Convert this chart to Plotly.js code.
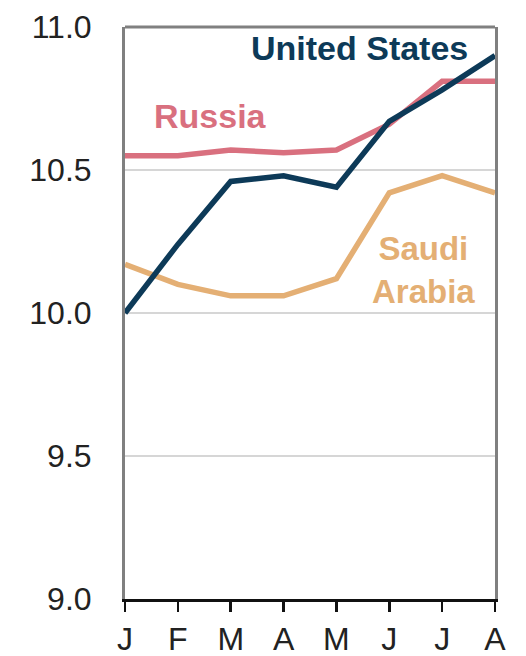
<!DOCTYPE html>
<html>
<head>
<meta charset="utf-8">
<script src="https://cdn.plot.ly/plotly-3.0.1.min.js"></script>
<style>html,body{margin:0;padding:0;background:#fff;}#chart{width:526px;height:656px;}</style>
</head>
<body>
<div id="chart"></div>
<script>
var months = ["J","F","M","A","M","J","J","A"];
var unitedStates = [10.00, 10.24, 10.46, 10.48, 10.44, 10.67, 10.78, 10.90];
var russia = [10.55, 10.55, 10.57, 10.56, 10.57, 10.66, 10.81, 10.81];
var saudiArabia = [10.17, 10.10, 10.06, 10.06, 10.12, 10.42, 10.48, 10.42];
var yTicks = [9.0, 9.5, 10.0, 10.5, 11.0];

var idx = months.map(function(_, i){ return i; });
function tr(y, color){
  return {x: idx, y: y, type: 'scatter', mode: 'lines',
    line: {color: color, width: 5.5, shape: 'linear'}, hoverinfo: 'skip'};
}
var traces = [tr(saudiArabia, '#e4af74'), tr(russia, '#d9707f'), tr(unitedStates, '#0d3a58')];

var layout = {
  width: 526, height: 656,
  margin: {l: 125, r: 31, t: 27, b: 57},
  paper_bgcolor: '#fff', plot_bgcolor: '#fff',
  showlegend: false,
  font: {family: 'Liberation Sans, Arial, sans-serif', color: '#222'},
  xaxis: {range: [0, 7], tickvals: idx, ticktext: months,
    showgrid: false, zeroline: false, showline: true, linecolor: '#111', linewidth: 3,
    ticks: 'outside', ticklen: 10, tickwidth: 2.5, tickcolor: '#111',
    tickfont: {size: 32, color: '#222'}, fixedrange: true},
  yaxis: {range: [9, 11], tickvals: yTicks, ticktext: yTicks.map(function(v){return v.toFixed(1);}),
    showgrid: true, gridcolor: '#d6d6d6', gridwidth: 1.5, zeroline: false,
    showline: true, linecolor: '#808080', linewidth: 3, mirror: true,
    ticks: '', ticklabelstandoff: 24, tickfont: {size: 32, color: '#222'}, fixedrange: true},
  shapes: [{type: 'line', xref: 'paper', yref: 'paper', x0: 0, x1: 1, y0: 1, y1: 1,
    line: {color: '#808080', width: 3}}],
  annotations: [
    {text: '<b>United States</b>', x: 6.53, y: 10.927, xref: 'x', yref: 'y', xanchor: 'right', yanchor: 'middle',
      showarrow: false, font: {size: 34, color: '#0d3a58'}},
    {text: '<b>Russia</b>', x: 0.51, y: 10.69, xref: 'x', yref: 'y', xanchor: 'left', yanchor: 'middle',
      showarrow: false, font: {size: 34, color: '#d9707f'}},
    {text: '<b>Saudi<br>Arabia</b>', x: 5.64, y: 10.15, xref: 'x', yref: 'y', xanchor: 'center', yanchor: 'middle',
      showarrow: false, align: 'center', font: {size: 33, color: '#e4af74'}}
  ]
};
Plotly.newPlot('chart', traces, layout, {staticPlot: true, displayModeBar: false});
</script>
</body>
</html>
